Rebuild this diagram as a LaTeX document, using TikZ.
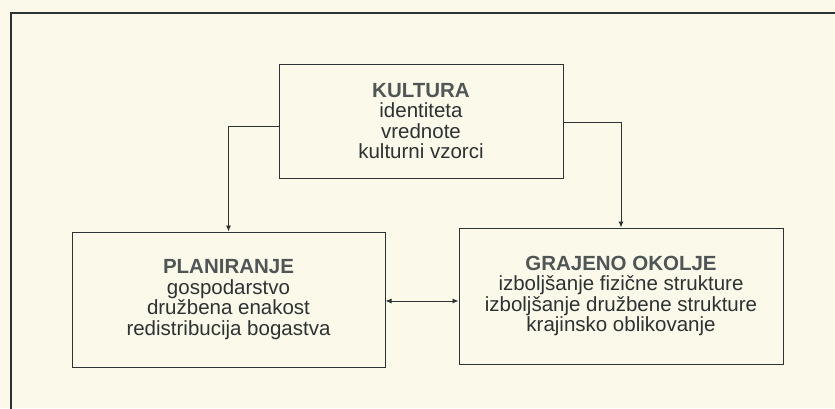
\documentclass[tikz,border=0pt]{standalone}
\usepackage{fontspec}
\setmainfont{Liberation Sans}
\usetikzlibrary{positioning,arrows.meta}
\definecolor{paper}{RGB}{250,249,234}
\definecolor{ink}{RGB}{45,50,50}
\definecolor{headink}{RGB}{80,85,85}
\newcommand{\head}[1]{{\bfseries\color{headink}#1}}

\begin{document}
\begin{tikzpicture}[x=1pt,y=-1pt,
	main/.style={rectangle, draw=ink, line width=1pt, align=center, inner sep=0pt,
		text=ink, font=\fontsize{20.5}{20.5}\selectfont},
	link/.style={draw=ink, line width=0.9pt},
	>={Latex[length=6pt,width=5pt]}
	]

	\fill[paper] (0,0) rectangle (835,408);
	\useasboundingbox (0,0) rectangle (835,408);
	\draw[ink, line width=2pt] (11,430) |- (850,13);

		\node (kult) [main, minimum width=284pt, minimum height=114pt] at (421,121)
			{\head{KULTURA}\\identiteta\\vrednote\\kulturni vzorci};
			\node (plan) [main, minimum width=313pt, minimum height=135pt] at (228.5,299.5)
				{\head{PLANIRANJE}\\gospodarstvo\\družbena enakost\\redistribucija bogastva};
			\node (graj) [main, minimum width=324pt, minimum height=136pt] at (621,296)
				{\head{GRAJENO OKOLJE}\\izboljšanje fizične strukture\\izboljšanje družbene strukture\\krajinsko oblikovanje};

	\draw [link, ->] ([yshift=-5pt]kult.west)-| (plan.north);
	\draw [link, ->] ([yshift=-1pt]kult.east)-| (graj.north);
	\draw [link, <->] ([yshift=-1.5pt]plan.east)-- ([yshift=-1.5pt]plan.east -| graj.west);

\end{tikzpicture}
\end{document}
